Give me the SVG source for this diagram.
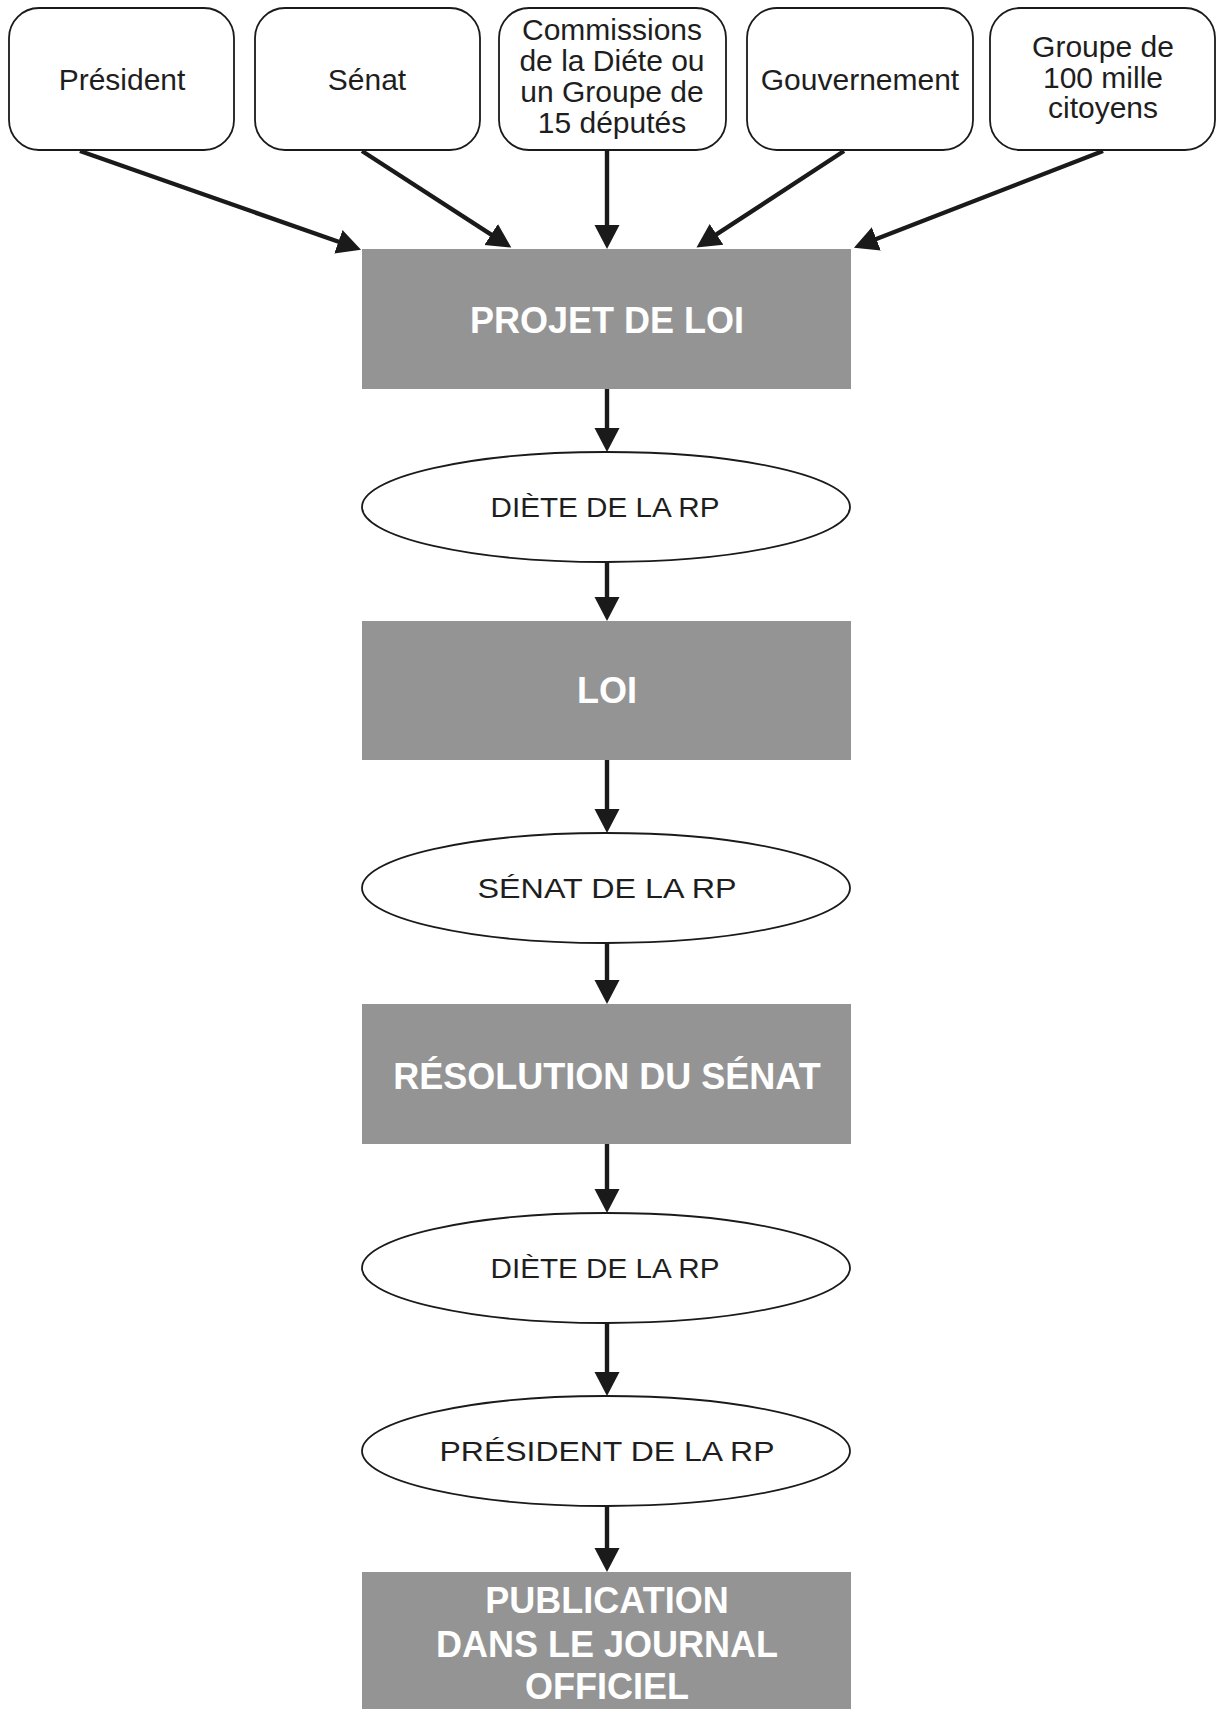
<svg xmlns="http://www.w3.org/2000/svg" width="1217" height="1709" viewBox="0 0 1217 1709">
<style>
.src{fill:#fff;stroke:#1a1a1a;stroke-width:1.8}
.box{fill:#949494;stroke:none}
.ell{fill:#fff;stroke:#1a1a1a;stroke-width:1.8}
.t{font-family:"Liberation Sans",Arial,sans-serif;font-size:30px;fill:#1e1e1e;text-anchor:middle}
.b{font-family:"Liberation Sans",Arial,sans-serif;font-size:36px;font-weight:bold;fill:#fff;text-anchor:middle}
.e{font-family:"Liberation Sans",Arial,sans-serif;font-size:27px;fill:#1e1e1e;text-anchor:middle}
.c{fill:none;stroke:#1a1a1a;stroke-width:4.4}
</style>
<defs>
<marker id="ah" markerUnits="userSpaceOnUse" markerWidth="26" markerHeight="28" refX="7" refY="14" orient="auto">
<path d="M0,1.5 L24,14 L0,26.5 z" fill="#1a1a1a"/>
</marker>
</defs>
<rect width="1217" height="1709" fill="#fff"/>
<g id="president">
<rect class="src" x="9" y="8" width="225" height="142" rx="30"/>
<text class="t" x="122" y="90">Président</text>
</g>
<g id="senat">
<rect class="src" x="255" y="8" width="225" height="142" rx="30"/>
<text class="t" x="367" y="90">Sénat</text>
</g>
<g id="commissions">
<rect class="src" x="499" y="8" width="227" height="142" rx="30"/>
<text class="t" x="612" y="40">Commissions</text>
<text class="t" x="612" y="71">de la Diéte ou</text>
<text class="t" x="612" y="102">un Groupe de</text>
<text class="t" x="612" y="133">15 députés</text>
</g>
<g id="gouvernement">
<rect class="src" x="747" y="8" width="226" height="142" rx="30"/>
<text class="t" x="860" y="90">Gouvernement</text>
</g>
<g id="citoyens">
<rect class="src" x="990" y="8" width="225" height="142" rx="30"/>
<text class="t" x="1103" y="57">Groupe de</text>
<text class="t" x="1103" y="88">100 mille</text>
<text class="t" x="1103" y="118">citoyens</text>
</g>
<g id="projet">
<rect class="box" x="362" y="249" width="489" height="140"/>
<text class="b" x="607" y="333">PROJET DE LOI</text>
</g>
<g id="diete1">
<ellipse class="ell" cx="606" cy="507" rx="244" ry="55"/>
<text class="e" x="605" y="517" textLength="229" lengthAdjust="spacingAndGlyphs">DIÈTE DE LA RP</text>
</g>
<g id="loi">
<rect class="box" x="362" y="621" width="489" height="139"/>
<text class="b" x="607" y="703">LOI</text>
</g>
<g id="senat-rp">
<ellipse class="ell" cx="606" cy="888" rx="244" ry="55"/>
<text class="e" x="607" y="898" textLength="259" lengthAdjust="spacingAndGlyphs">SÉNAT DE LA RP</text>
</g>
<g id="resolution">
<rect class="box" x="362" y="1004" width="489" height="140"/>
<text class="b" x="607" y="1089">RÉSOLUTION DU SÉNAT</text>
</g>
<g id="diete2">
<ellipse class="ell" cx="606" cy="1268" rx="244" ry="55"/>
<text class="e" x="605" y="1278" textLength="229" lengthAdjust="spacingAndGlyphs">DIÈTE DE LA RP</text>
</g>
<g id="president-rp">
<ellipse class="ell" cx="606" cy="1451" rx="244" ry="55"/>
<text class="e" x="607" y="1461" textLength="335" lengthAdjust="spacingAndGlyphs">PRÉSIDENT DE LA RP</text>
</g>
<g id="publication">
<rect class="box" x="362" y="1572" width="489" height="140"/>
<text class="b" x="607" y="1613">PUBLICATION</text>
<text class="b" x="607" y="1657">DANS LE JOURNAL</text>
<text class="b" x="607" y="1699">OFFICIEL</text>
</g>
<g id="connectors">
<line class="c" x1="80" y1="151" x2="345" y2="244" marker-end="url(#ah)"/>
<line class="c" x1="362" y1="151" x2="497" y2="238.3" marker-end="url(#ah)"/>
<line class="c" x1="607" y1="150" x2="607" y2="232" marker-end="url(#ah)"/>
<line class="c" x1="844" y1="151" x2="710.7" y2="238.2" marker-end="url(#ah)"/>
<line class="c" x1="1103" y1="151" x2="869.8" y2="241.5" marker-end="url(#ah)"/>
<line class="c" x1="607" y1="389" x2="607" y2="435" marker-end="url(#ah)"/>
<line class="c" x1="607" y1="562" x2="607" y2="604" marker-end="url(#ah)"/>
<line class="c" x1="607" y1="760" x2="607" y2="816" marker-end="url(#ah)"/>
<line class="c" x1="607" y1="943" x2="607" y2="987" marker-end="url(#ah)"/>
<line class="c" x1="607" y1="1144" x2="607" y2="1196" marker-end="url(#ah)"/>
<line class="c" x1="607" y1="1323" x2="607" y2="1379" marker-end="url(#ah)"/>
<line class="c" x1="607" y1="1506" x2="607" y2="1555" marker-end="url(#ah)"/>
</g>
</svg>
